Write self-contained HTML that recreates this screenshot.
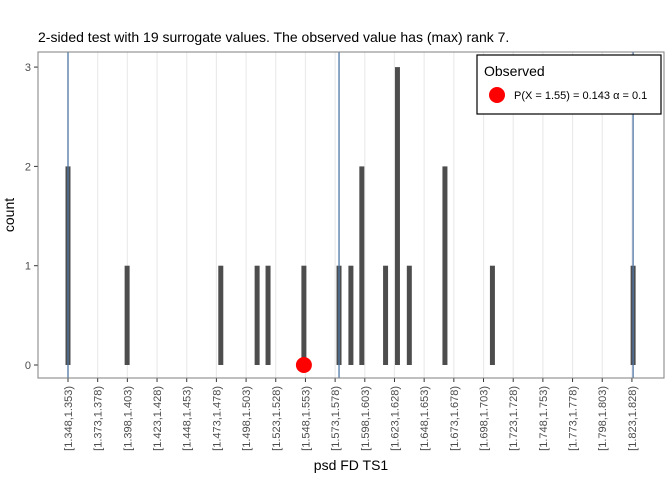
<!DOCTYPE html>
<html><head><meta charset="utf-8"><style>
body{margin:0;background:#fff;font-family:"Liberation Sans",sans-serif}
</style></head><body>
<svg id="c" width="672" height="480" xmlns="http://www.w3.org/2000/svg" font-family="Liberation Sans, sans-serif">
<text x="38" y="42" font-size="14" fill="#000">2-sided test with 19 surrogate values. The observed value has (max) rank 7.</text>
<g id="grid"></g><g id="marks"></g><g id="axes"></g>
<rect x="38" y="52" width="626" height="326" fill="none" stroke="#7f7f7f" stroke-width="1"/>
<text x="14" y="215" font-size="14" transform="rotate(-90 14 215)" text-anchor="middle">count</text>
<text x="351" y="470" font-size="14" text-anchor="middle">psd FD TS1</text>
<g>
<rect x="477" y="55" width="184" height="59" fill="#fff" stroke="#000" stroke-width="1.2"/>
<text x="484" y="76" font-size="14">Observed</text>
<circle cx="497" cy="95" r="8" fill="#ff0000"/>
<text x="514" y="99" font-size="11">P(X = 1.55) = 0.143  α = 0.1</text>
</g>
</svg>
<script>
const tickLabels=["[1.348,1.353)","[1.373,1.378)","[1.398,1.403)","[1.423,1.428)","[1.448,1.453)","[1.473,1.478)","[1.498,1.503)","[1.523,1.528)","[1.548,1.553)","[1.573,1.578)","[1.598,1.603)","[1.623,1.628)","[1.648,1.653)","[1.673,1.678)","[1.698,1.703)","[1.723,1.728)","[1.748,1.753)","[1.773,1.778)","[1.798,1.803)","[1.823,1.828)"];
const barValues=[1.3505,1.4003,1.4792,1.5098,1.519,1.5492,1.5788,1.5888,1.598,1.618,1.628,1.638,1.668,1.708,1.8265];
const barCounts=[2,1,1,1,1,1,1,1,2,1,3,1,2,1,1];
const vlineValues=[1.3505,1.5788,1.8265];
const observedValue=1.5492;
const yTicks=[0,1,2,3];
const ns="http://www.w3.org/2000/svg";
const x=v=>68+(v-1.3505)/0.025*29.68;
const y=c=>365-c*99.3;
function mk(t,a,p){const e=document.createElementNS(ns,t);for(const k in a)e.setAttribute(k,a[k]);document.getElementById(p).appendChild(e);return e;}
tickLabels.forEach((l,i)=>{const v=1.3505+i*0.025;const xx=x(v);
 const g=mk('line',{x1:xx,x2:xx,y1:52,y2:378,stroke:'#ebebeb','stroke-width':1.2},'grid');
 
 
 const t=mk('line',{x1:xx,x2:xx,y1:378,y2:382,stroke:'#333'},'axes');
 
 
 const tx=mk('text',{x:0,y:0,'font-size':11,fill:'#4d4d4d','text-anchor':'end',transform:`translate(${xx+4},386) rotate(-90)`},'axes');
 tx.textContent=l;
 
 
});
yTicks.forEach(c=>{const yy=y(c);
 const t=mk('line',{x1:34,x2:38,y1:yy,y2:yy,stroke:'#333'},'axes');
 
 
 const tx=mk('text',{x:31,y:yy+4,'font-size':11,fill:'#4d4d4d','text-anchor':'end'},'axes');
 tx.textContent=c;
 
 
});
barValues.forEach((v,i)=>{const xx=x(v);
 const b=mk('rect',{x:xx-2.5,y:y(barCounts[i]),width:5,height:y(0)-y(barCounts[i]),fill:'#4d4d4d'},'marks');
 
 
});
vlineValues.forEach(v=>{const xx=x(v);
 const l=mk('line',{x1:xx,x2:xx,y1:52,y2:378,stroke:'#4f79a8','stroke-width':1.3},'marks');
 
 
});
const p=mk('circle',{cx:x(observedValue),cy:y(0),r:8,fill:'#ff0000'},'marks');


</script>
</body></html>
